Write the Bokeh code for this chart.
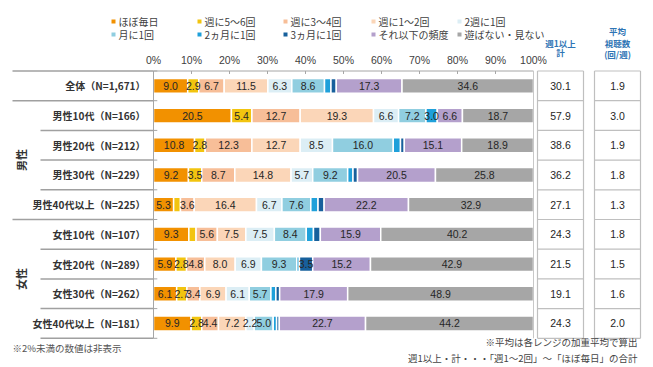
from bokeh.plotting import figure
from bokeh.models import ColumnDataSource, Range1d
from bokeh.core.properties import value
from bokeh.embed import file_html
from bokeh.resources import INLINE

# ---------------- data ----------------
rows = ["全体（N=1,671）", "男性10代（N=166）", "男性20代（N=212）", "男性30代（N=229）",
        "男性40代以上（N=225）", "女性10代（N=107）", "女性20代（N=289）",
        "女性30代（N=262）", "女性40代以上（N=181）"]
groups = ["男性", "女性"]

series_names = ["ほぼ毎日", "週に5～6回", "週に3～4回", "週に1～2回", "2週に1回",
                "月に1回", "2ヵ月に1回", "3ヵ月に1回", "それ以下の頻度", "遊ばない・見ない"]
daily = [9.0, 20.5, 10.8, 9.2, 5.3, 9.3, 5.9, 6.1, 9.9]
w56 = [2.9, 5.4, 2.8, 3.5, 1.8, 1.9, 2.8, 2.7, 2.8]
w34 = [6.7, 12.7, 12.3, 8.7, 3.6, 5.6, 4.8, 3.4, 4.4]
w12 = [11.5, 19.3, 12.7, 14.8, 16.4, 7.5, 8.0, 6.9, 7.2]
biweek = [6.3, 6.6, 8.5, 5.7, 6.7, 7.5, 6.9, 6.1, 2.2]
month = [8.6, 7.2, 16.0, 9.2, 7.6, 8.4, 9.3, 5.7, 5.0]
month2 = [1.7, 3.0, 1.9, 1.4, 1.9, 1.9, 0.7, 1.3, 0.9]
month3 = [1.4, 0.0, 1.0, 1.2, 1.6, 1.8, 3.5, 1.0, 0.7]
less = [17.3, 6.6, 15.1, 20.5, 22.2, 15.9, 15.2, 17.9, 22.7]
never = [34.6, 18.7, 18.9, 25.8, 32.9, 40.2, 42.9, 48.9, 44.2]
week_total = [30.1, 57.9, 38.6, 36.2, 27.1, 24.3, 21.5, 19.1, 24.3]
avg_views = [1.9, 3.0, 1.9, 1.8, 1.3, 1.8, 1.5, 1.6, 2.0]
ticks = [0, 10, 20, 30, 40, 50, 60, 70, 80, 90, 100]
tick_labels = ["0%", "10%", "20%", "30%", "40%", "50%", "60%", "70%", "80%", "90%", "100%"]

colors = ["#F29100", "#F2C40F", "#F7BE98", "#FBD6B8", "#DCEEF5",
          "#90CEE0", "#1FA0DA", "#17609C", "#B4A0CC", "#A6A6A6"]
all_series = [daily, w56, w34, w12, biweek, month, month2, month3, less, never]

# ---------------- layout helpers (picture px -> data) ----------------
W, H = 653, 367
X0, PX = 153.0, 3.8
Y0, PITCH = 85.35, 29.7


def fx(px):
    return (px - X0) / PX


def fy(py):
    return (py - Y0) / PITCH


JP = value("Noto Sans CJK JP")
NUM = value("Liberation Sans")

p = figure(width=W, height=H, output_backend="svg", toolbar_location=None,
           x_range=Range1d(-X0 / PX, (W - X0) / PX),
           y_range=Range1d((H - Y0) / PITCH, -Y0 / PITCH),
           x_axis_location=None, y_axis_location=None, min_border=0,
           outline_line_color=None, background_fill_color="white",
           border_fill_color="white")
p.xgrid.visible = False
p.ygrid.visible = False

n = len(rows)
ys = list(range(n))

# ---------------- bars ----------------
left = [0.0] * n
lab_x, lab_y, lab_t = [], [], []
for vals, col in zip(all_series, colors):
    right = [l + v for l, v in zip(left, vals)]
    src = ColumnDataSource(dict(y=ys, left=left, right=right))
    p.hbar(y="y", left="left", right="right", height=0.5, source=src,
           fill_color=col, line_color="white", line_width=1.5)
    for i, v in enumerate(vals):
        if v >= 2.0:
            lab_x.append(left[i] + v / 2)
            lab_y.append(i)
            lab_t.append(f"{v:.1f}")
    left = right

p.text(x=lab_x, y=lab_y, text=lab_t, text_font=NUM, text_font_size="10.5px",
       text_align="center", text_baseline="middle", text_color="#262626")

# ---------------- axes / frame ----------------
lc = "#A6A6A6"
top = -0.5
bot = n - 0.5
p.segment(x0=[0], y0=[top], x1=[100], y1=[top], line_color=lc, line_width=1)
p.segment(x0=ticks, y0=[top] * len(ticks), x1=ticks, y1=[top + 0.1] * len(ticks),
          line_color=lc, line_width=1)
p.text(x=ticks, y=[fy(59)] * len(ticks), text=tick_labels, text_font=NUM,
       text_font_size="10.5px", text_align="center", text_baseline="middle",
       text_color="#404040")
p.segment(x0=[0, 100], y0=[top, top], x1=[0, 100], y1=[bot, bot],
          line_color=[lc, "#C8C8C8"], line_width=1)
bounds = [i + 0.5 for i in range(-1, n)]
p.segment(x0=[0] * len(bounds), y0=bounds, x1=[1.0] * len(bounds), y1=bounds,
          line_color=lc, line_width=1)

full_sep = {-0.5, 0.5, 4.5}
sx0 = [fx(12) if b in full_sep else fx(40) for b in bounds]
p.segment(x0=sx0, y0=bounds, x1=[0] * len(bounds), y1=bounds,
          line_color="#A0A0A0", line_width=1.5)

p.text(x=[fx(145)] * n, y=ys, text=rows, text_font=JP, text_font_size="10px",
       text_font_style="bold", text_align="right", text_baseline="middle",
       text_color="#333333")
p.text(x=[fx(20), fx(20)], y=[2.5, 6.5], text=groups, text_font=JP,
       text_font_size="11px", text_font_style="bold", angle=1.5708,
       text_align="center", text_baseline="middle", text_color="#333333")

# ---------------- right tables ----------------
for xa, xb, vals in [(537, 583, week_total), (594, 640, avg_views)]:
    p.segment(x0=[fx(xa), fx(xb)], y0=[top, top], x1=[fx(xa), fx(xb)], y1=[bot, bot],
              line_color="#BFBFBF", line_width=1.2)
    p.segment(x0=[fx(xa)] * len(bounds), y0=bounds, x1=[fx(xb)] * len(bounds),
              y1=bounds, line_color="#BFBFBF", line_width=1.2)
    p.text(x=[fx((xa + xb) / 2)] * n, y=ys, text=[f"{v:.1f}" for v in vals],
           text_font=NUM, text_font_size="10.5px", text_align="center",
           text_baseline="middle", text_color="#262626")

hdr_c = "#2F75B5"
p.text(x=[fx(560), fx(560)], y=[fy(42), fy(51)], text=["週1以上", "計"],
       text_font=JP, text_font_size="8.5px", text_font_style="bold",
       text_align="center", text_baseline="middle", text_color=hdr_c)
p.text(x=[fx(617)] * 3, y=[fy(30), fy(42), fy(53)], text=["平均", "視聴数", "(回/週)"],
       text_font=JP, text_font_size="8.5px", text_font_style="bold",
       text_align="center", text_baseline="middle", text_color=hdr_c)

# ---------------- legend ----------------
leg_x = [113, 199, 285, 373, 459]
leg_y = [21, 34]
mx, my, mt_x, mt_y = [], [], [], []
for k, name in enumerate(series_names):
    r, c = divmod(k, 5)
    mx.append(fx(leg_x[c]))
    my.append(fy(leg_y[r]))
    mt_x.append(fx(leg_x[c] + 5))
    mt_y.append(fy(leg_y[r]))
p.scatter(x=mx, y=my, marker="square", size=4, fill_color=colors,
          line_color=None)
p.text(x=mt_x, y=mt_y, text=series_names, text_font=JP, text_font_size="10px",
       text_align="left", text_baseline="middle", text_color="#404040")

# ---------------- notes ----------------
p.text(x=[fx(12)], y=[fy(347)], text=["※2%未満の数値は非表示"], text_font=JP,
       text_font_size="9.5px", text_align="left", text_baseline="middle",
       text_color="#555555")
p.text(x=[fx(637), fx(637)], y=[fy(341), fy(357)],
       text=["※平均は各レンジの加重平均で算出", "週1以上・計・・・「週1～2回」～「ほぼ毎日」の合計"],
       text_font=JP, text_font_size="9.5px", text_align="right",
       text_baseline="middle", text_color="#444444")

open("out.html", "w").write(file_html(p, INLINE))
